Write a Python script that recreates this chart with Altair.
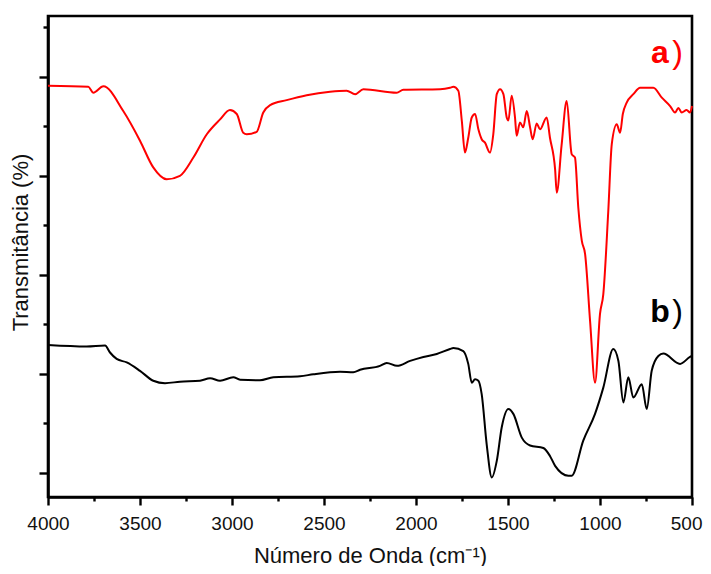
import altair as alt
import pandas as pd

# FTIR spectrum a) (red)
red_wn = [4000, 3781, 3754, 3699, 3591, 3500, 3428, 3355, 3283, 3210,
          3137, 3065, 3011, 2974, 2939, 2920, 2866, 2830, 2793, 2703,
          2594, 2467, 2377, 2331, 2286, 2105, 2069, 1869, 1815, 1797,
          1770, 1751, 1734, 1716, 1697, 1679, 1661, 1643, 1625, 1598,
          1580, 1561, 1543, 1525, 1507, 1498, 1480, 1462, 1453, 1435,
          1417, 1398, 1380, 1366, 1344, 1326, 1290, 1272, 1244, 1235,
          1209, 1181, 1154, 1136, 1118, 1099, 1081, 1054, 1027, 1000,
          982, 955, 936, 909, 891, 876, 855, 819, 782, 710,
          664, 619, 592, 574, 556, 529, 511, 500]
red_t = [78.2, 78.0, 76.8, 78.1, 73.1, 67.1, 61.7, 59.3, 60.0, 63.7,
         68.4, 71.4, 73.3, 72.5, 68.7, 68.4, 68.9, 72.8, 74.3, 75.3,
         76.3, 77.0, 77.2, 76.5, 77.5, 76.8, 77.4, 77.5, 77.8, 78.0,
         77.2, 71.1, 64.7, 67.7, 71.8, 72.5, 69.4, 67.4, 66.7, 64.7,
         68.4, 76.5, 77.5, 76.5, 71.8, 71.2, 76.2, 71.8, 68.1, 70.8,
         69.8, 73.1, 69.8, 67.4, 70.6, 69.4, 71.8, 67.7, 61.3, 56.6,
         66.1, 75.1, 64.4, 63.7, 53.6, 46.9, 44.2, 30.7, 18.2, 32.1,
         36.1, 52.9, 66.4, 70.4, 68.7, 72.5, 74.8, 76.5, 77.8, 77.8,
         75.8, 74.1, 72.8, 73.7, 72.8, 73.3, 72.8, 74.1]

# FTIR spectrum b) (black)
black_wn = [4000, 3790, 3690, 3663, 3627, 3572, 3500, 3428, 3364, 3283,
            3174, 3119, 3065, 2993, 2956, 2848, 2775, 2630, 2558, 2413,
            2341, 2304, 2196, 2159, 2103, 2032, 1960, 1887, 1815, 1797,
            1743, 1716, 1697, 1679, 1661, 1643, 1616, 1588, 1561, 1534,
            1498, 1471, 1425, 1380, 1308, 1272, 1244, 1172, 1154, 1091,
            1027, 982, 928, 900, 873, 846, 819, 773, 746, 719,
            683, 656, 565, 511, 500]
black_t = [25.8, 25.5, 25.7, 24.3, 23.0, 22.3, 20.6, 18.6, 18.1, 18.4,
           18.6, 19.1, 18.6, 19.3, 18.8, 18.7, 19.3, 19.5, 19.9, 20.4,
           20.3, 20.8, 21.6, 22.2, 21.6, 22.6, 23.4, 24.0, 25.0, 25.2,
           24.6, 22.0, 18.2, 18.9, 18.6, 15.9, 5.8, -0.95, 2.4, 9.2,
           12.9, 11.9, 7.1, 5.5, 5.0, 3.4, 1.4, -0.6, -0.6, 6.5,
           11.9, 17.2, 25.0, 22.6, 14.2, 19.3, 15.2, 17.9, 12.9, 20.6,
           23.6, 24.1, 22.0, 23.4, 23.6]

x_ticks = [4000, 3750, 3500, 3250, 3000, 2750, 2500, 2250, 2000, 1750,
           1500, 1250, 1000, 750, 500]
y_ticks = [0, 10, 20, 30, 40, 50, 60, 70, 80, 90]

label_letters = ["a", "b"]
label_parens = [")", ")"]
label_colors = ["#ff0000", "#000000"]
label_wn_letter = [674, 674]
label_wn_paren = [579, 579]
label_t = [82.8, 30.5]

df = pd.concat([
    pd.DataFrame({"wn": red_wn, "t": red_t, "s": "a"}),
    pd.DataFrame({"wn": black_wn, "t": black_t, "s": "b"}),
])
lab = pd.DataFrame({"letter": label_letters, "paren": label_parens,
                    "color": label_colors, "wl": label_wn_letter,
                    "wp": label_wn_paren, "t": label_t})

FONT = "Liberation Sans"

xscale = alt.Scale(domain=[500, 4000], reverse=True, nice=False, zero=False)
yscale = alt.Scale(domain=[-4.9, 92.3], nice=False, zero=False)

xaxis = alt.Axis(
    values=x_ticks, format="d",
    labelExpr="datum.value % 500 === 0 ? datum.label : ''",
    labelAlign={"condition": {"test": "datum.value === 500", "value": "right"}, "value": "center"},
    labelOffset={"condition": {"test": "datum.value === 500", "value": 10}, "value": 0},
    tickSize={"condition": {"test": "datum.value % 500 === 0", "value": 8}, "value": 4},
    title="Número de Onda (cm⁻¹)", titleFontSize=22, titleFontWeight="normal",
    titlePadding=12, labelFontSize=19, labelPadding=9, labelFlush=False,
    labelOverlap=False,
    grid=False, domainColor="black", domainWidth=2.6, tickColor="black",
    tickWidth=2.4, labelColor="#111111", titleColor="#111111",
    labelFont=FONT, titleFont=FONT,
)
yaxis = alt.Axis(
    values=y_ticks, labels=False,
    tickSize={"condition": {"test": "datum.value % 20 === 0", "value": 9}, "value": 5},
    title="Transmitância (%)", titleFontSize=22, titleFontWeight="normal",
    titlePadding=5, titleY=226, grid=False, domainColor="black", domainWidth=2.6,
    tickColor="black", tickWidth=2.4, titleColor="#111111", titleFont=FONT,
)

lines = alt.Chart(df).mark_line(strokeWidth=2, interpolate="monotone").encode(
    x=alt.X("wn:Q", scale=xscale, axis=xaxis),
    y=alt.Y("t:Q", scale=yscale, axis=yaxis),
    color=alt.Color("s:N", scale=alt.Scale(domain=["a", "b"], range=["#ff0000", "#000000"]), legend=None),
    detail="s:N",
)

letters = alt.Chart(lab).mark_text(fontSize=32, fontWeight="bold", font=FONT,
                                   baseline="alphabetic", align="center").encode(
    x=alt.X("wl:Q", scale=xscale),
    y=alt.Y("t:Q", scale=yscale),
    text="letter:N",
    color=alt.Color("color:N", scale=None),
)
parens = alt.Chart(lab).mark_text(fontSize=32, fontWeight="normal", font=FONT,
                                  baseline="alphabetic", align="center").encode(
    x=alt.X("wp:Q", scale=xscale),
    y=alt.Y("t:Q", scale=yscale),
    text="paren:N",
    color=alt.Color("color:N", scale=None),
)

chart = alt.layer(lines, letters, parens).properties(
    width=644, height=481,
    autosize=alt.AutoSizeParams(type="none"),
    padding={"left": 40, "top": 8, "right": 11, "bottom": 69},
    background="white",
).configure_view(stroke="black", strokeWidth=2.6)

chart.save("out.html", embed_options={"renderer": "svg", "actions": False})
